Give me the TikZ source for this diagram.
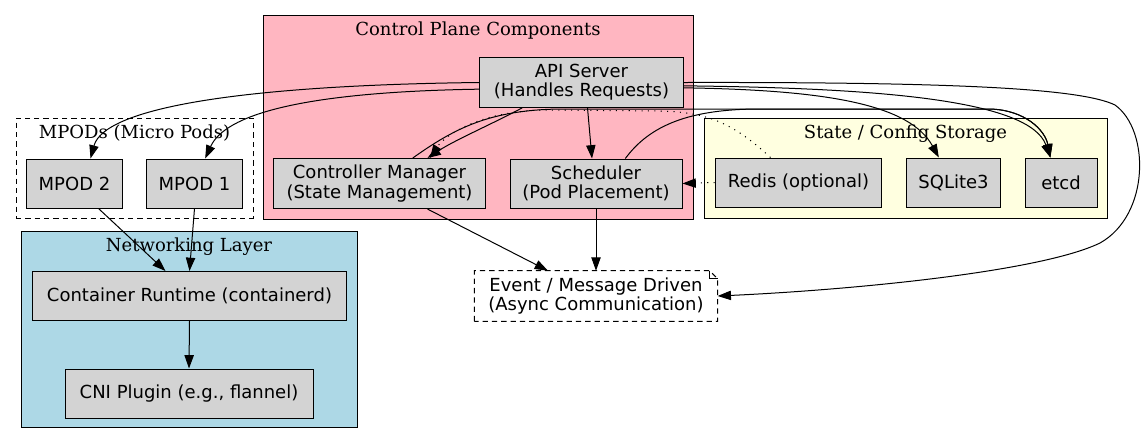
\documentclass[tikz,border=0pt]{standalone}
\usepackage{fontspec}
\newfontfamily\compfont{DejaVu Sans}
\newfontfamily\groupfont{DejaVu Serif}
\newcommand\compsize{\fontsize{13.5pt}{14.5pt}\selectfont}
\usetikzlibrary{ fit,         % For the cluster boxes around the components
                 arrows.meta,
                 positioning, % For easy node-relative placements
               }
\definecolor{ctrlpink}{HTML}{FFB6C1}
\definecolor{netblue}{HTML}{ADD8E6}
\definecolor{storeyellow}{HTML}{FFFFE0}
\definecolor{boxgray}{HTML}{D3D3D3}
\tikzstyle{comp} = [rectangle, draw=black, fill=boxgray, line width=0.75pt, minimum height=36.75pt, inner xsep=2pt, inner ysep=5pt, align=center, font=\compfont\compsize]
\tikzstyle{note} = [rectangle, minimum height=37.5pt, inner sep=2pt, align=center, font=\compfont\compsize]
\tikzstyle{cluster} = [rectangle, draw=black, line width=0.75pt, inner sep=0pt]
\tikzstyle{clabel} = [font=\groupfont\compsize, anchor=base, yshift=-16pt, inner sep=0pt]
\tikzstyle{flow} = [-{Triangle[length=10pt,width=7pt]}, line width=0.75pt]
\tikzstyle{optflow} = [flow, dash pattern=on 0.8pt off 4pt]

\begin{document}
\begin{tikzpicture}[x=0.75pt, y=-0.75pt]
  \useasboundingbox (0,0) rectangle (1141,444);

  % clusters
  \coordinate (control_nw) at (263,15);
  \coordinate (control_se) at (693,219);
  \node (control) [cluster, fill=ctrlpink, fit={(control_nw) (control_se)},
    label={[clabel]north:Control Plane Components}] {};
  \coordinate (pods_nw) at (16,118);
  \coordinate (pods_se) at (253,218);
  \node (pods) [cluster, dash pattern=on 4pt off 3pt, fit={(pods_nw) (pods_se)},
    label={[clabel]north:MPODs (Micro Pods)}] {};
  \coordinate (net_nw) at (21,231);
  \coordinate (net_se) at (357,427);
  \node (net) [cluster, fill=netblue, fit={(net_nw) (net_se)},
    label={[clabel]north:Networking Layer}] {};
  \coordinate (store_nw) at (704,118);
  \coordinate (store_se) at (1107,218);
  \node (store) [cluster, fill=storeyellow, fit={(store_nw) (store_se)},
    label={[clabel]north:State / Config Storage}] {};

  % components
  \node (api) [comp, minimum width=153pt] at (581.5,82.5) {API Server\\(Handles Requests)};
  \node (ctrl) [comp, minimum width=159pt] at (379.5,183.5) {Controller Manager\\(State Management)};
  \node (sched) [comp, minimum width=129pt] at (596,183.5) {Scheduler\\(Pod Placement)};
  \node (mpod2) [comp, minimum width=72pt] at (74.5,183.5) {MPOD 2};
  \node (mpod1) [comp, minimum width=72pt] at (194.5,183.5) {MPOD 1};
  \node (redis) [comp, minimum width=125pt] at (798.5,182.5) {Redis (optional)};
  \node (sqlite) [comp, minimum width=71pt] at (953.5,182.5) {SQLite3};
  \node (etcd) [comp, minimum width=54pt] at (1061,182.5) {etcd};
  \node (runtime) [comp, minimum width=235pt] at (189.5,296) {Container Runtime (containerd)};
  \node (cni) [comp, minimum width=186pt] at (189,393.5) {CNI Plugin (e.g., flannel)};
  \node (events) [note, minimum width=182pt] at (596,296) {Event / Message Driven\\(Async Communication)};
  \draw [line width=0.75pt, dash pattern=on 4pt off 3pt]
    (events.south west) -- (events.north west) -- ([xshift=-6pt]events.north east)
    -- ([yshift=-6pt]events.north east) -- (events.south east) -- cycle;
  \draw [line width=0.5pt] ([xshift=-6pt]events.north east) |- ([yshift=-6pt]events.north east);

  % api server
  \draw [flow] (api.west) .. controls (260,85) and (105,105) .. ([xshift=12pt]mpod2.north);
  \draw [flow] ([yshift=-5pt]api.west) .. controls (300,92) and (225,115) .. ([xshift=8pt]mpod1.north);
  \draw [flow] ([xshift=-44.5pt]api.south) .. controls (490,125) and (455,140) .. ([xshift=36pt]ctrl.north);
  \draw [flow] ([xshift=4.5pt]api.south) -- ([xshift=-3pt]sched.north);
  \draw [flow] ([yshift=-4pt]api.east) .. controls (830,90) and (910,105) .. ([xshift=-11pt]sqlite.north);
  \draw [flow] ([yshift=-2.5pt]api.east) .. controls (880,88) and (1030,100) .. ([xshift=-8pt]etcd.north);
  \draw [flow] (api.east) .. controls (950,82) and (1080,88) .. (1115,105)
    .. controls (1150,130) and (1150,215) .. (1100,243)
    .. controls (1040,272) and (850,290) .. (events.east);

  % storage
  \draw [flow] ([xshift=25pt]ctrl.north) .. controls (455,128) and (490,110) .. (560,109) -- (990,109)
    .. controls (1025,110) and (1045,130) .. ([xshift=-8pt]etcd.north);
  \draw [flow] ([xshift=22pt]sched.north) .. controls (650,125) and (690,109) .. (760,109) -- (990,109)
    .. controls (1025,110) and (1045,130) .. ([xshift=-8pt]etcd.north);
  \draw [optflow] ([xshift=-21pt]redis.north) .. controls (735,125) and (710,112) .. (660,111) -- (545,110)
    .. controls (480,111) and (445,135) .. ([xshift=38pt]ctrl.north);
  \draw [optflow] (redis.west) -- (sched.east);

  % events and networking
  \draw [flow] ([xshift=36pt]ctrl.south) -- ([xshift=-36pt]events.north);
  \draw [flow] (sched.south) -- (events.north);
  \draw [flow] ([xshift=18pt]mpod2.south) -- ([xshift=-18pt]runtime.north);
  \draw [flow] (mpod1.south) -- (runtime.north);
  \draw [flow] (runtime.south) -- (cni.north);
\end{tikzpicture}
\end{document}
